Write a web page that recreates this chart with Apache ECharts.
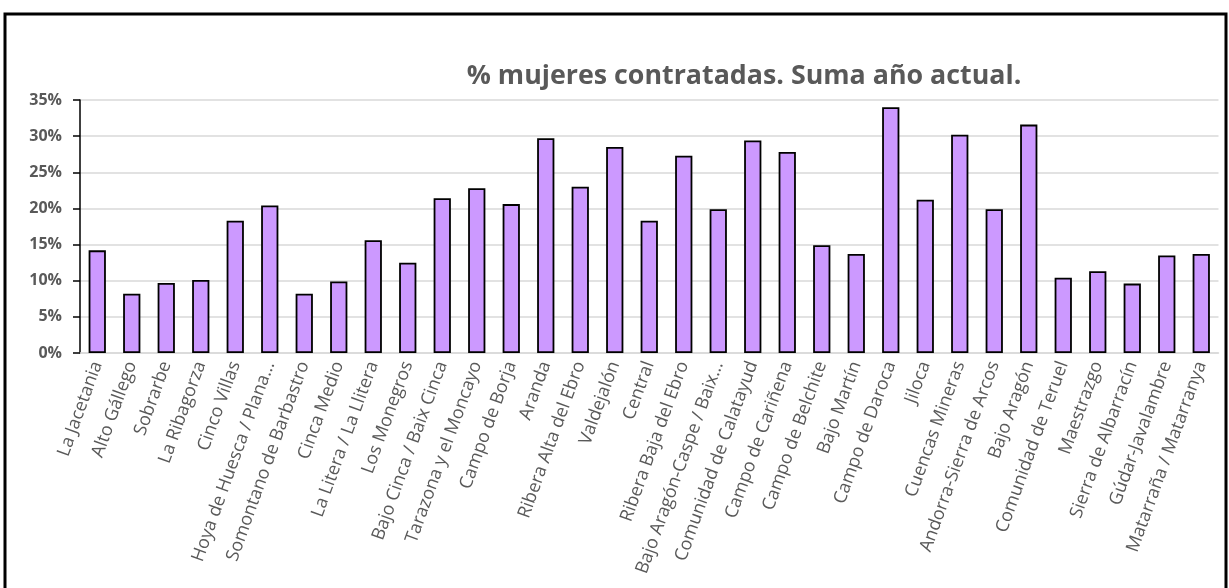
<!DOCTYPE html>
<html>
<head>
<meta charset="utf-8">
<script src="https://cdn.jsdelivr.net/npm/echarts@6/dist/echarts.min.js"></script>
<style>
  html, body { margin: 0; padding: 0; background: #fff; }
  #chart { width: 1229px; height: 588px; }
</style>
</head>
<body>
<div id="chart"></div>
<script>
// comarcas (etiquetas tal como aparecen en el gráfico)
const comarcas = [
    'La Jacetania', 'Alto Gállego', 'Sobrarbe', 'La Ribagorza', 'Cinco Villas',
    'Hoya de Huesca / Plana...', 'Somontano de Barbastro', 'Cinca Medio',
    'La Litera / La Llitera', 'Los Monegros', 'Bajo Cinca / Baix Cinca',
    'Tarazona y el Moncayo', 'Campo de Borja', 'Aranda', 'Ribera Alta del Ebro',
    'Valdejalón', 'Central', 'Ribera Baja del Ebro', 'Bajo Aragón-Caspe / Baix...',
    'Comunidad de Calatayud', 'Campo de Cariñena', 'Campo de Belchite',
    'Bajo Martín', 'Campo de Daroca', 'Jiloca', 'Cuencas Mineras',
    'Andorra-Sierra de Arcos', 'Bajo Aragón', 'Comunidad de Teruel',
    'Maestrazgo', 'Sierra de Albarracín', 'Gúdar-Javalambre', 'Matarraña / Matarranya'
];

// % mujeres contratadas, suma año actual
const pctMujeres = [
    14.2, 8.2, 9.7, 10.1, 18.3,
    20.4, 8.2, 9.9,
    15.6, 12.5, 21.4,
    22.8, 20.6, 29.7, 23.0,
    28.5, 18.3, 27.3, 19.9,
    29.4, 27.8, 14.9,
    13.7, 34.0, 21.2, 30.2,
    19.9, 31.6, 10.4,
    11.3, 9.6, 13.5, 13.7
];

const yTicks = { min: 0, max: 35, interval: 5 };

const chart = echarts.init(document.getElementById('chart'));

chart.setOption({
    backgroundColor: '#fff',
    animation: false,
    title: {
        text: '% mujeres contratadas. Suma año actual.',
        left: 739,
        top: 58,
        textAlign: 'center',
        textStyle: {
            fontFamily: 'Open Sans',
            fontWeight: 'bold',
            fontSize: 26.8,
            color: '#595959',
        },
    },
    graphic: [{
        type: 'rect',
        shape: { x: 5, y: 14, width: 1221, height: 600 },
        style: { fill: 'none', stroke: '#000', lineWidth: 3 },
        silent: true,
        z: 100,
    }],
    grid: {
        left: 80,
        right: 10.5,
        top: 100,
        bottom: 235,
        containLabel: false,
    },
    xAxis: {
        type: 'category',
        data: comarcas,
        axisLine: { show: true, lineStyle: { color: '#d9d9d9', width: 1.5 } },
        axisTick: { show: false },
        axisLabel: {
            interval: 0,
            rotate: 70,
            margin: 9,
            color: '#595959',
            fontFamily: 'Open Sans',
            fontSize: 18,
        },
    },
    yAxis: {
        type: 'value',
        min: yTicks.min,
        max: yTicks.max,
        interval: yTicks.interval,
        axisLine: { show: true, lineStyle: { color: '#000', width: 1.5 } },
        axisTick: { show: true, length: 7, lineStyle: { color: '#000', width: 1.5 } },
        axisLabel: {
            formatter: '{value}%',
            margin: 18,
            color: '#595959',
            fontFamily: 'Open Sans',
            fontWeight: 'bold',
            fontSize: 16,
        },
        splitLine: { lineStyle: { color: '#d9d9d9', width: 1.5 } },
    },
    series: [{
        type: 'bar',
        data: pctMujeres,
        barWidth: '50%',
        itemStyle: {
            color: '#cc99ff',
            borderColor: '#000',
            borderWidth: 1.8,
        },
    }],
});
</script>
</body>
</html>
